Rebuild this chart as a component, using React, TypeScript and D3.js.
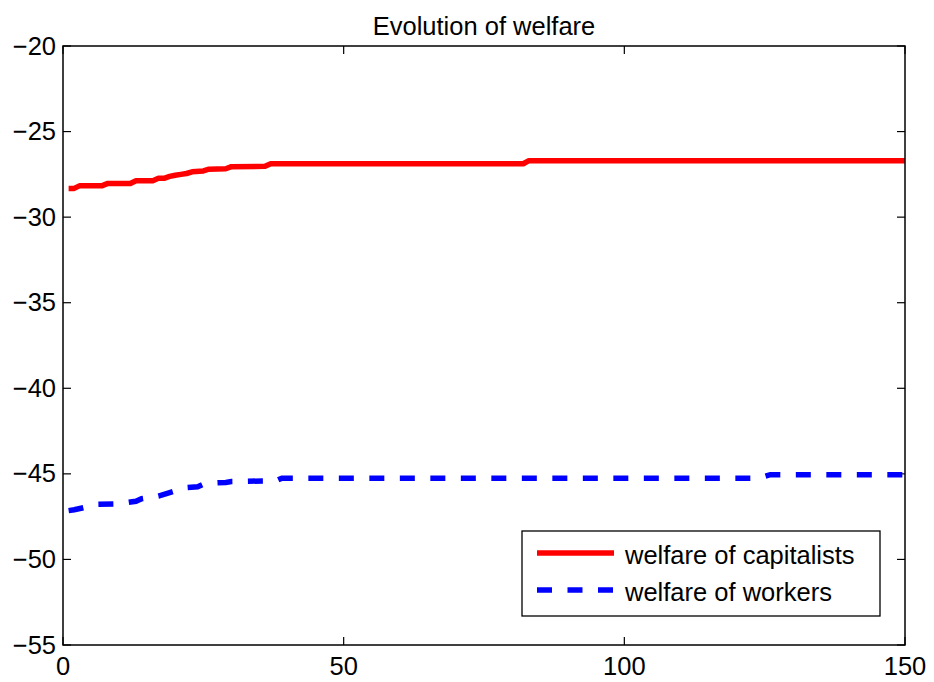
import React from "react";
import * as d3 from "d3";

const titleText = "Evolution of welfare";
const xTicks = [0, 50, 100, 150];
const yTicks = [-20, -25, -30, -35, -40, -45, -50, -55];
const seriesNames = ["welfare of capitalists", "welfare of workers"];

const capX = [1, 2, 3, 7, 8, 12, 13, 16, 17, 18, 19, 20, 21, 22, 23, 25, 26, 29, 30, 36, 37, 82, 83, 150];
const capY = [-28.32, -28.32, -28.16, -28.16, -28.03, -28.03, -27.87, -27.87, -27.73, -27.73, -27.62, -27.55, -27.5, -27.45, -27.35, -27.3, -27.2, -27.17, -27.05, -27.03, -26.88, -26.88, -26.7, -26.7];

const wrkX = [1, 2, 4, 5, 6, 10, 13, 14, 17, 19, 20, 22, 24, 25, 26, 29, 30, 38, 39, 124, 126, 150];
const wrkY = [-47.15, -47.1, -46.95, -46.85, -46.78, -46.75, -46.6, -46.45, -46.3, -46.1, -46.0, -45.8, -45.75, -45.6, -45.55, -45.5, -45.45, -45.4, -45.25, -45.25, -45.05, -45.05];

const W = 934;
const H = 682;
const L = 63, R = 905, T = 46, B = 645;
const FONT = "'Liberation Sans', Arial, Helvetica, sans-serif";
const FS = 25.5;

const fmt = (v: number) => (v < 0 ? "\u2212" + Math.abs(v) : String(v));

export default function App() {
  const x = d3.scaleLinear().domain([0, 150]).range([L, R]);
  const y = d3.scaleLinear().domain([-55, -20]).range([B, T]);
  const line = d3.line<[number, number]>().x(d => x(d[0])).y(d => y(d[1]));
  const capPts = capX.map((v, i) => [v, capY[i]] as [number, number]);
  const wrkPts = wrkX.map((v, i) => [v, wrkY[i]] as [number, number]);
  const tl = 8;

  const lgX = 522, lgY = 531, lgW = 358, lgH = 85;

  return (
    <svg width={W} height={H} style={{ position: "absolute", left: 0, top: 0, background: "#fff" }} fontFamily={FONT}>
      <rect x={0} y={0} width={W} height={H} fill="#fff" />
      <clipPath id="plotclip">
        <rect x={L} y={T} width={R - L} height={B - T} />
      </clipPath>
      <text x={(L + R) / 2} y={35} textAnchor="middle" fontSize={FS} fill="#000">{titleText}</text>
      {xTicks.map(t => (
        <g key={"x" + t}>
          <line x1={x(t)} x2={x(t)} y1={B} y2={B - tl} stroke="#000" strokeWidth={1.2} />
          <line x1={x(t)} x2={x(t)} y1={T} y2={T + tl} stroke="#000" strokeWidth={1.2} />
          <text x={x(t)} y={675} textAnchor="middle" fontSize={FS} fill="#000">{fmt(t)}</text>
        </g>
      ))}
      {yTicks.map(t => (
        <g key={"y" + t}>
          <line x1={L} x2={L + tl} y1={y(t)} y2={y(t)} stroke="#000" strokeWidth={1.2} />
          <line x1={R} x2={R - tl} y1={y(t)} y2={y(t)} stroke="#000" strokeWidth={1.2} />
          <text x={56} y={y(t) + 8.5} textAnchor="end" fontSize={FS} fill="#000">{fmt(t)}</text>
        </g>
      ))}
      <g clipPath="url(#plotclip)">
        <path d={line(capPts) || ""} fill="none" stroke="#ff0000" strokeWidth={5.5} strokeLinejoin="round" />
        <path d={line(wrkPts) || ""} fill="none" stroke="#0000ff" strokeWidth={5.5} strokeDasharray="15,15.5" />
      </g>
      <rect x={L} y={T} width={R - L} height={B - T} fill="none" stroke="#000" strokeWidth={1.5} />
      <rect x={lgX} y={lgY} width={lgW} height={lgH} fill="#fff" stroke="#000" strokeWidth={1.3} />
      <line x1={537} x2={614} y1={553} y2={553} stroke="#ff0000" strokeWidth={5.5} />
      <line x1={537} x2={614} y1={590} y2={590} stroke="#0000ff" strokeWidth={5.5} strokeDasharray="15,15.5" />
      <text x={625} y={564} fontSize={FS} fill="#000">{seriesNames[0]}</text>
      <text x={625} y={601} fontSize={FS} fill="#000">{seriesNames[1]}</text>
    </svg>
  );
}
